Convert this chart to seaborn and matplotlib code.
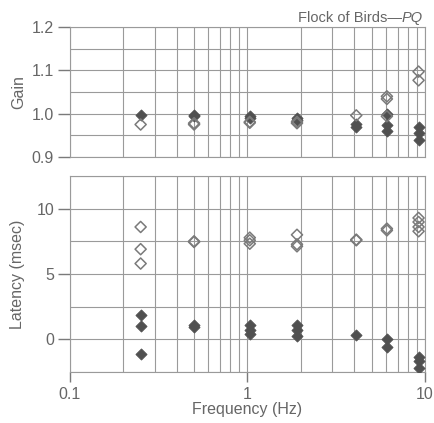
import matplotlib
matplotlib.use("Agg")
import matplotlib.pyplot as plt
import matplotlib.ticker as mticker
import numpy as np
import pandas as pd
import seaborn as sns

# ---- data ----
gain_open_freq = [0.25, 0.5, 0.5, 1.03, 1.03, 1.9, 1.9, 4.1, 6.1, 6.1, 6.1, 9.2, 9.2]
gain_open_val = [0.975, 0.975, 0.978, 0.979, 0.981, 0.978, 0.981, 0.996, 1.040, 1.034, 0.994, 1.097, 1.077]
gain_filled_freq = [0.25, 0.5, 0.5, 1.03, 1.03, 1.9, 1.9, 4.1, 4.1, 6.1, 6.1, 6.1, 9.2, 9.2, 9.2]
gain_filled_val = [0.998, 0.998, 0.994, 0.994, 0.991, 0.990, 0.986, 0.975, 0.970, 1.000, 0.973, 0.959, 0.970, 0.955, 0.939]

lat_open_freq = [0.25, 0.25, 0.25, 0.5, 0.5, 1.03, 1.03, 1.03, 1.9, 1.9, 1.9, 4.1, 4.1, 6.1, 6.1, 9.2, 9.2, 9.2, 9.2]
lat_open_val = [8.6, 6.9, 5.8, 7.5, 7.45, 7.78, 7.58, 7.32, 8.0, 7.27, 7.12, 7.63, 7.58, 8.47, 8.34, 9.29, 8.98, 8.6, 8.27]
lat_filled_freq = [0.25, 0.25, 0.25, 0.5, 0.5, 1.03, 1.03, 1.03, 1.9, 1.9, 1.9, 4.1, 6.1, 6.1, 9.2, 9.2, 9.2]
lat_filled_val = [1.9, 1.0, -1.1, 1.12, 0.95, 1.12, 0.74, 0.38, 1.07, 0.69, 0.26, 0.36, 0.05, -0.59, -1.35, -1.68, -2.17]

gain_ticks = [0.9, 1.0, 1.1, 1.2]
gain_tick_labels = ["0.9", "1.0", "1.1", "1.2"]
lat_ticks = [0, 5, 10]
lat_tick_labels = ["0", "5", "10"]
freq_ticks = [0.1, 1, 10]
freq_tick_labels = ["0.1", "1", "10"]

title_main = "Flock of Birds\u2014"
title_ital = "PQ"

# ---- style ----
GRID = "#9a9a9a"
TICK = "#7a7a7a"
TEXT = "#666666"
FILL = "#505050"
EDGE = "#7a7a7a"

sns.set_theme(style="ticks")
plt.rcParams["font.family"] = ["Liberation Sans", "DejaVu Sans"]

W, H = 435, 423
fig = plt.figure(figsize=(W / 100, H / 100), dpi=100)
ax1 = fig.add_axes([70 / W, 1 - 157 / H, 355 / W, 130 / H])
ax2 = fig.add_axes([70 / W, 1 - 372 / H, 355 / W, 196 / H])

def draw(ax, of, ov, ff, fv):
    d_open = pd.DataFrame({"freq": of, "val": ov})
    d_fill = pd.DataFrame({"freq": ff, "val": fv})
    sns.scatterplot(data=d_fill, x="freq", y="val", ax=ax, marker="D", s=32,
                    color=FILL, edgecolor=FILL, linewidth=0.6, zorder=3)
    sns.scatterplot(data=d_open, x="freq", y="val", ax=ax, marker="D", s=32,
                    facecolor="none", edgecolor=EDGE, linewidth=1.1, zorder=4)

def style_axis(ax, ylim, yticks, ylabels, yminor):
    ax.set_xscale("log")
    ax.set_xlim(0.1, 10)
    ax.set_ylim(*ylim)
    ax.yaxis.set_major_locator(mticker.FixedLocator(yticks))
    ax.yaxis.set_major_formatter(mticker.FixedFormatter(ylabels))
    ax.yaxis.set_minor_locator(mticker.FixedLocator(yminor))
    ax.xaxis.set_major_locator(mticker.FixedLocator(freq_ticks))
    ax.xaxis.set_minor_locator(mticker.LogLocator(base=10, subs=np.arange(2, 10)))
    ax.xaxis.set_minor_formatter(mticker.NullFormatter())
    ax.grid(True, which="both", axis="both", color=GRID, linewidth=0.8)
    for s in ax.spines.values():
        s.set_visible(True)
        s.set_color(GRID)
        s.set_linewidth(0.8)
    ax.tick_params(axis="y", which="major", direction="out", length=8.5,
                   width=1.0, color=TICK, labelsize=11.5, labelcolor=TEXT, pad=3)
    ax.tick_params(axis="both", which="minor", length=0)

draw(ax1, gain_open_freq, gain_open_val, gain_filled_freq, gain_filled_val)
draw(ax2, lat_open_freq, lat_open_val, lat_filled_freq, lat_filled_val)

style_axis(ax1, (0.9, 1.2), gain_ticks, gain_tick_labels, [0.95, 1.05, 1.15])
style_axis(ax2, (-2.5, 12.5), lat_ticks, lat_tick_labels, [-2.5, 2.5, 7.5, 12.5])

ax1.tick_params(axis="x", which="major", length=0, labelbottom=False)
ax2.xaxis.set_major_formatter(mticker.FixedFormatter(freq_tick_labels))
ax2.tick_params(axis="x", which="major", direction="out", length=7.5, width=1.0,
                color=TICK, labelsize=11.5, labelcolor=TEXT, pad=3)

ax1.set_xlabel("")
ax1.set_ylabel("Gain", fontsize=11.5, color=TEXT, labelpad=4)
ax2.set_ylabel("Latency (msec)", fontsize=11.5, color=TEXT, labelpad=8)
ax2.set_xlabel("Frequency (Hz)", fontsize=11.5, color=TEXT, labelpad=0)

# title, right-aligned with italic tail
t2 = fig.text(423 / W, 1 - 22 / H, title_ital, ha="right", va="baseline",
              fontsize=10.5, color=TEXT, style="italic")
fig.canvas.draw()
bb = t2.get_window_extent()
fig.text(bb.x0 / W, 1 - 22 / H, title_main, ha="right", va="baseline",
         fontsize=10.5, color=TEXT)

fig.savefig("out.png", dpi=100)
